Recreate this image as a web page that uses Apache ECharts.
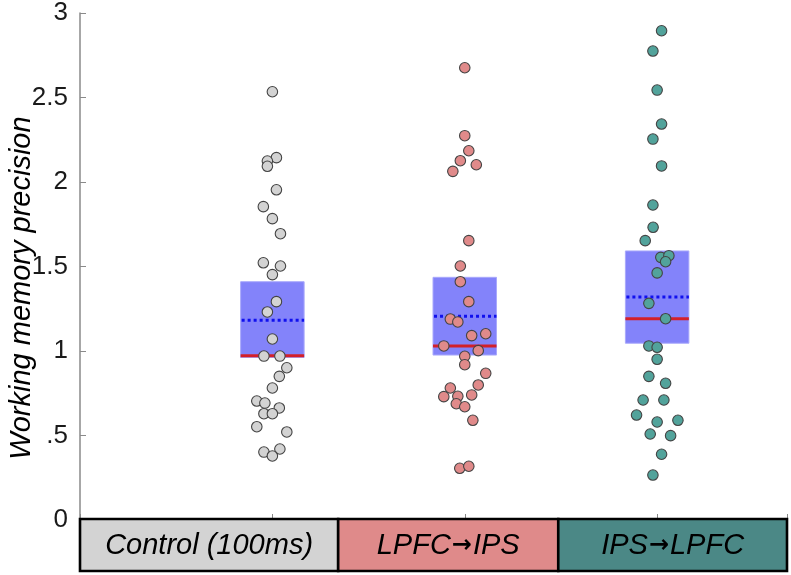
<!DOCTYPE html>
<html>
<head>
<meta charset="utf-8">
<script src="https://cdn.jsdelivr.net/npm/echarts@6/dist/echarts.min.js"></script>
<style>html,body{margin:0;padding:0;background:#fff;}#c{width:791px;height:575px;}</style>
</head>
<body>
<div id="c"></div>
<script>
const categories = ['Control (100ms)', 'LPFC\u2192IPS', 'IPS\u2192LPFC'];
const categoryBounds = [0, 1.342, 2.486, 3.675];
const stripColors = ['#d3d3d3', '#df8a8a', '#4b8886'];
const pointColors = ['#d3d3d3', '#e08a8a', '#52a39b'];

const controlValues = [2.534, 2.144, 2.124, 2.093, 1.954, 1.854, 1.783, 1.694, 1.522, 1.503, 1.452, 1.292, 1.231, 1.071, 0.970, 0.970, 0.901, 0.850, 0.781, 0.704, 0.692, 0.663, 0.629, 0.629, 0.552, 0.521, 0.402, 0.420, 0.379];
const controlJitter = [0, 0.021, -0.026, -0.026, 0.021, -0.047, 0, 0.042, -0.047, 0.042, 0, 0.021, -0.026, 0, -0.044, 0.039, 0.075, 0.036, 0, -0.081, -0.039, 0.036, -0.044, 0, -0.081, 0.075, -0.044, 0.039, 0];

const lpfcValues = [2.676, 2.274, 2.185, 2.126, 2.102, 2.063, 1.653, 1.503, 1.410, 1.292, 1.189, 1.172, 1.091, 1.102, 1.030, 1.002, 0.969, 0.919, 0.868, 0.799, 0.781, 0.730, 0.732, 0.740, 0.688, 0.670, 0.590, 0.306, 0.318];
const lpfcJitter = [0, 0, 0.021, -0.023, 0.06, -0.062, 0.021, -0.023, -0.023, 0.021, -0.075, -0.036, 0.036, 0.109, -0.109, 0.07, 0, 0, 0.109, 0.07, -0.075, -0.109, -0.036, 0.036, -0.044, 0, 0.042, -0.026, 0.021];

const ipsValues = [2.895, 2.775, 2.544, 2.343, 2.254, 2.095, 1.864, 1.732, 1.653, 1.554, 1.564, 1.528, 1.462, 1.282, 1.191, 1.030, 1.022, 0.951, 0.850, 0.809, 0.710, 0.710, 0.621, 0.580, 0.590, 0.509, 0.499, 0.389, 0.266];
const ipsJitter = [0.023, -0.022, 0, 0.023, -0.022, 0.023, -0.022, -0.021, -0.062, 0.019, 0.061, 0.044, 0, -0.043, 0.044, -0.043, 0, 0, -0.043, 0.044, -0.073, 0.035, -0.107, 0, 0.108, -0.036, 0.07, 0.023, -0.022];

// box stats
const boxQ1 = [0.962, 0.976, 1.046];
const boxQ3 = [1.410, 1.436, 1.592];
const boxMedian = [0.972, 1.030, 1.191];
const boxMean = [1.182, 1.205, 1.320];

const yTicks = [0, 0.5, 1, 1.5, 2, 2.5, 3];

const groups = [
  {values: controlValues, jitter: controlJitter},
  {values: lpfcValues, jitter: lpfcJitter},
  {values: ipsValues, jitter: ipsJitter}
];

const chart = echarts.init(document.getElementById('c'), null, {renderer: 'canvas'});
const FONT = 'Liberation Sans, Arial, sans-serif';

const scatterSeries = groups.map((g, i) => ({
  type: 'scatter',
  xAxisIndex: 0, yAxisIndex: 0,
  z: 5,
  symbol: 'circle',
  symbolSize: 10.5,
  itemStyle: {color: pointColors[i], borderColor: '#444', borderWidth: 1.1, opacity: 1},
  emphasis: {disabled: true},
  data: g.values.map((v, k) => [i + 1 + g.jitter[k], v])
}));

const boxData = categories.map((c, i) => [i + 1, boxQ1[i], boxQ3[i], boxMedian[i], boxMean[i]]);
const halfWidth = 0.165;

const boxSeries = {
  type: 'custom',
  xAxisIndex: 0, yAxisIndex: 0,
  z: 2,
  data: boxData,
  renderItem: function (params, api) {
    const x = api.value(0), q1 = api.value(1), q3 = api.value(2), med = api.value(3), mean = api.value(4);
    const tl = api.coord([x - halfWidth, q3]);
    const br = api.coord([x + halfWidth, q1]);
    const m1 = api.coord([x - halfWidth, med]);
    const m2 = api.coord([x + halfWidth, med]);
    const a1 = api.coord([x - halfWidth, mean]);
    const a2 = api.coord([x + halfWidth, mean]);
    return {
      type: 'group',
      children: [
        {type: 'rect', shape: {x: tl[0], y: tl[1], width: br[0] - tl[0], height: br[1] - tl[1]},
          style: {fill: '#8383fa', stroke: '#a9a9fb', lineWidth: 1}},
        {type: 'line', shape: {x1: m1[0], y1: m1[1], x2: m2[0], y2: m2[1]},
          style: {stroke: '#d3202a', lineWidth: 3}},
        {type: 'line', shape: {x1: a1[0] + 1, y1: a1[1], x2: a2[0], y2: a2[1]},
          style: {stroke: '#1010ee', lineWidth: 3, lineDash: [3, 3]}}
      ]
    };
  }
};

function richLabel(t) {
  const parts = t.split('\u2192');
  if (parts.length === 1) return '{a|' + t + '}';
  return '{a|' + parts[0] + '}{b|\u2192}{a|' + parts[1] + '}';
}

const stripData = categories.map((c, i) => [categoryBounds[i], categoryBounds[i + 1], i]);
const stripSeries = {
  type: 'custom',
  xAxisIndex: 1, yAxisIndex: 1,
  z: 3,
  clip: false,
  data: stripData,
  renderItem: function (params, api) {
    const x0 = api.value(0), x1 = api.value(1), idx = api.value(2);
    const tl = api.coord([x0, 1]);
    const br = api.coord([x1, 0]);
    return {
      type: 'group',
      children: [
        {type: 'rect', shape: {x: tl[0], y: tl[1], width: br[0] - tl[0], height: br[1] - tl[1]},
          style: {fill: stripColors[idx], stroke: '#000', lineWidth: 2.6}},
        {type: 'text', style: {text: richLabel(categories[idx]), x: (tl[0] + br[0]) / 2, y: (tl[1] + br[1]) / 2 + 1,
          align: 'center', verticalAlign: 'middle',
          rich: {
            a: {fill: '#000', fontSize: 29, fontStyle: 'italic', fontFamily: FONT},
            b: {fill: '#000', fontSize: 24, fontWeight: 'bold', fontFamily: 'DejaVu Sans', padding: [0, 1, 0, 1]}
          }}}
      ]
    };
  }
};

chart.setOption({
  animation: false,
  backgroundColor: '#fff',
  grid: [
    {left: 80, right: 4, top: 13, bottom: 55},
    {left: 80, right: 4, top: 519, height: 52}
  ],
  xAxis: [
    {type: 'value', gridIndex: 0, min: 0, max: 3.675, interval: 1,
      axisLine: {show: false},
      axisTick: {show: true, inside: true, length: 6, lineStyle: {color: '#888', width: 1}},
      axisLabel: {show: false}, splitLine: {show: false}},
    {type: 'value', gridIndex: 1, min: 0, max: 3.675,
      axisLine: {show: false}, axisTick: {show: false}, axisLabel: {show: false}, splitLine: {show: false}}
  ],
  yAxis: [
    {type: 'value', gridIndex: 0, min: 0, max: 3, interval: 0.5,
      axisLine: {show: true, lineStyle: {color: '#8a8a8a', width: 1.5}},
      axisTick: {show: true, inside: true, length: 6, lineStyle: {color: '#8a8a8a', width: 1}},
      axisLabel: {show: true, fontSize: 26, color: '#1a1a1a', fontFamily: FONT, margin: 12,
        formatter: function (v) { return v === 0.5 ? '.5' : String(v); }},
      splitLine: {show: false}},
    {type: 'value', gridIndex: 1, min: 0, max: 1,
      axisLine: {show: false}, axisTick: {show: false}, axisLabel: {show: false}, splitLine: {show: false}}
  ],
  graphic: [
    {type: 'text', x: 22, y: 288, rotation: Math.PI / 2,
      style: {text: 'Working memory precision', font: 'italic 29px ' + FONT, fill: '#000',
        align: 'center', verticalAlign: 'middle'}}
  ],
  series: [boxSeries].concat(scatterSeries).concat([stripSeries])
});
</script>
</body>
</html>
